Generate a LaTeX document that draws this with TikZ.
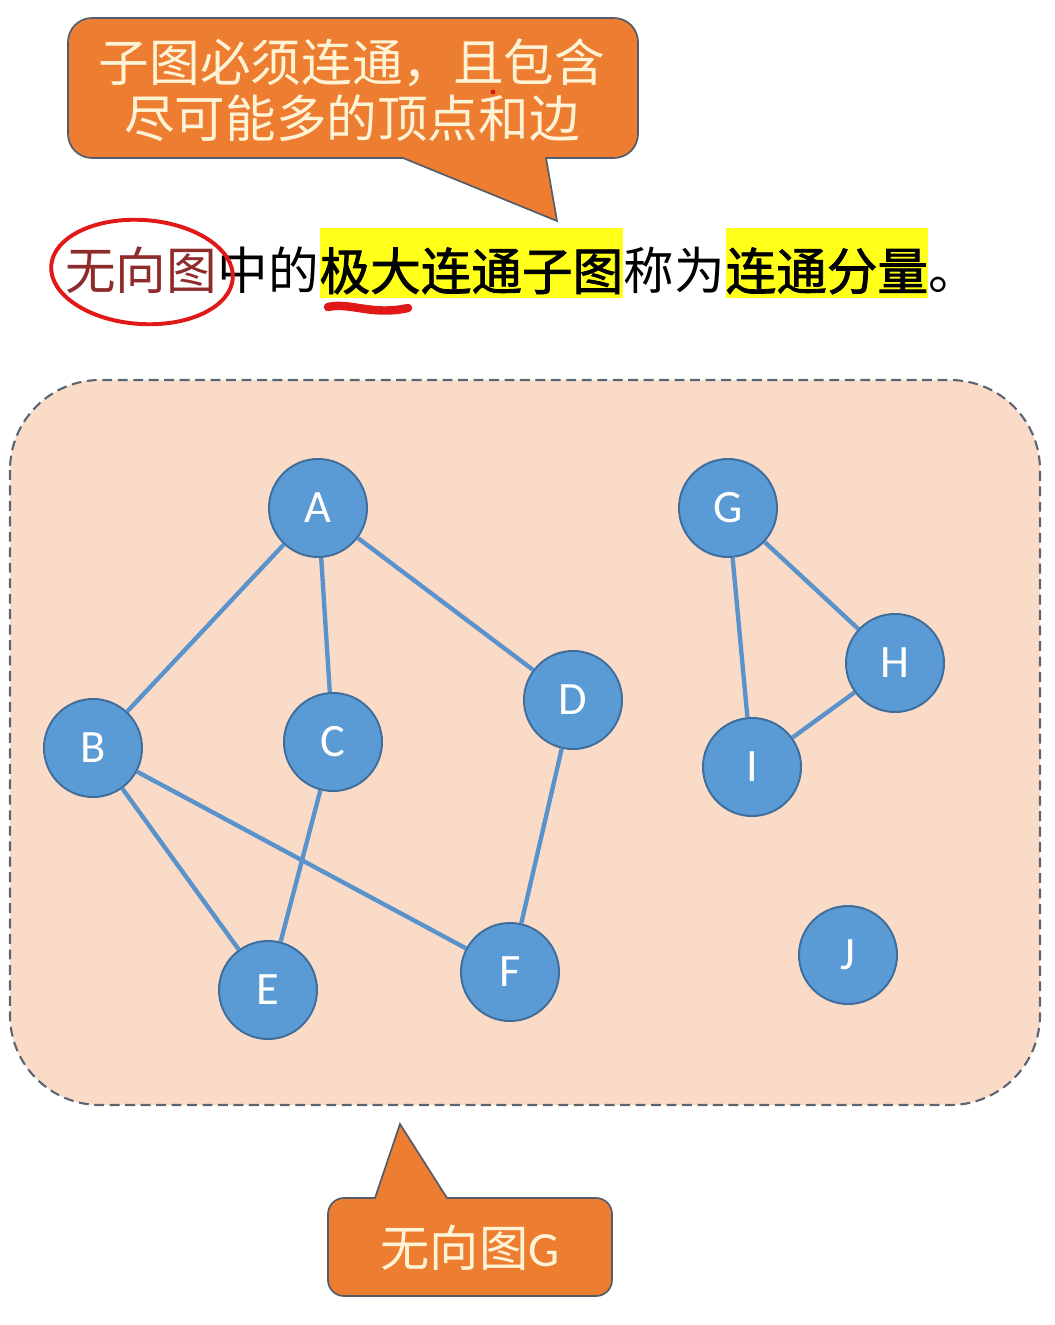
\documentclass[tikz,border=0pt]{standalone}
\usepackage{fontspec}
\newfontfamily\cjk{Noto Sans CJK SC}
\newfontfamily\cjkbold[FakeBold=1.6]{Noto Sans CJK SC}
\newfontfamily\lat{Carlito}
\usetikzlibrary{positioning}
\definecolor{calloutfill}{HTML}{ED7D31}
\definecolor{calloutline}{HTML}{525C6A}
\definecolor{callouttext}{HTML}{FFF3D6}
\definecolor{peach}{HTML}{FADBC7}
\definecolor{boxline}{HTML}{5A6474}
\definecolor{vertexblue}{HTML}{5B9BD5}
\definecolor{vertexline}{HTML}{3F6E9C}
\definecolor{edgeblue}{HTML}{5A92CB}
\definecolor{darkred}{HTML}{8E2B2B}
\definecolor{redpen}{HTML}{E01818}
\definecolor{hilite}{HTML}{FFFF1A}
\begin{document}
\begin{tikzpicture}[x=0.025cm,y=-0.025cm,
  vertex/.style={circle,draw=vertexline,fill=vertexblue,line width=1.4pt,
    minimum size=2.45cm,inner sep=0pt,text=white,font=\lat\fontsize{33}{36}\selectfont},
  edge/.style={draw=edgeblue,line width=3.1pt},
  callout/.style={fill=calloutfill,draw=calloutline,line width=1.2pt},
  word/.style={inner sep=0pt,text height=44pt,text depth=6pt,font=\cjk\fontsize{36}{40}\selectfont},
  keyword/.style={word,fill=hilite,font=\cjkbold\fontsize{36}{40}\selectfont},
  pen/.style={draw=redpen,line width=2.8pt,line cap=round}]
\useasboundingbox (0,0) rectangle (1054,1325);

% top callout
\draw[callout] (68,18) [rounded corners=0.6cm] -- (638,18) -- (638,158) [sharp corners] -- (546,158)
  -- (557,221) -- (403,158) [rounded corners=0.6cm] -- (68,158) -- cycle;
\node[align=center,text=callouttext,font=\cjk\fontsize{36}{40}\selectfont] (tip) at (352,90)
  {子图必须连通，且包含\\尽可能多的顶点和边};
\fill[redpen] (493,92) circle (2.5);

% sentence
\node[word,anchor=base west,text=darkred] (w1) at (65,290) {无向图};
\node[word,right=0pt of w1] (w2) {中的};
\node[keyword,right=0pt of w2] (w3) {极大连通子图};
\node[word,right=0pt of w3] (w4) {称为};
\node[keyword,right=0pt of w4] (w5) {连通分量};
\node[word,right=0pt of w5] (w6) {。};
\draw[pen,rotate around={-4:(142,272)}] (142,272) ellipse [x radius=91, y radius=52];
\draw[pen,line width=6pt] (328,307) .. controls (350,302) and (372,316) .. (408,308);

% graph G
\draw[fill=peach,draw=boxline,line width=1.5pt,dash pattern=on 7pt off 4pt,rounded corners=2.25cm]
  (10,380) rectangle (1040,1105);
\node[vertex] (A) at (318,508) {A};
\node[vertex] (B) at (93,748) {B};
\node[vertex] (C) at (333,742) {C};
\node[vertex] (D) at (573,700) {D};
\node[vertex] (E) at (268,990) {E};
\node[vertex] (F) at (510,972) {F};
\node[vertex] (G) at (728,508) {G};
\node[vertex] (H) at (895,663) {H};
\node[vertex] (I) at (752,767) {I};
\node[vertex] (J) at (848,955) {J};
\foreach \a/\b in {A/B,A/C,A/D,B/E,B/F,C/E,D/F,G/H,G/I,H/I}
  \draw[edge] (\a) -- (\b);

% bottom callout
\draw[callout] (328,1198) [sharp corners] -- (375,1198) -- (400,1124) -- (447,1198)
  [rounded corners=0.4cm] -- (612,1198) -- (612,1296) -- (328,1296) -- cycle;
\node[text=callouttext,font=\cjk\fontsize{35}{40}\selectfont] (name) at (470,1248) {无向图{\lat G}};
\end{tikzpicture}
\end{document}
